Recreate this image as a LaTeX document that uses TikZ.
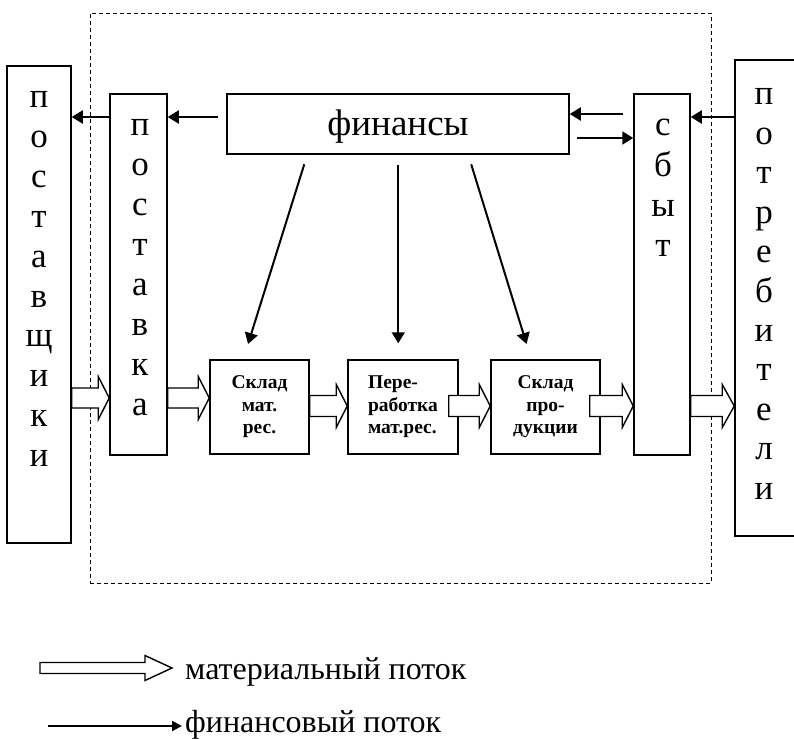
\documentclass[tikz,border=0pt]{standalone}
\usepackage{fontspec}
\setmainfont{Liberation Serif}
\usetikzlibrary{arrows.meta,calc}
\tikzset{
  box/.style={draw, line width=1.5pt, fill=white, inner sep=0pt},
  vlet/.style={anchor=base, inner sep=0pt, font=\fontsize{35}{40}\selectfont},
  smallbox/.style={box, font=\bfseries\fontsize{19.5}{22.5}\selectfont},
  finarrow/.style={line width=2pt, -{Triangle[length=11pt,width=13pt]}},
  legtext/.style={inner sep=0pt, font=\fontsize{32}{38}\selectfont},
}
\newcommand\blockarr[5]{%
  \filldraw[fill=white, line width=1.4pt, line join=miter]
    let \p1=(#1), \p2=(#2) in
    (\x1,\y1+#3) -- (\x2-#5,\y1+#3) -- (\x2-#5,\y1+#4) -- (\x2,\y1)
    -- (\x2-#5,\y1-#4) -- (\x2-#5,\y1-#3) -- (\x1,\y1-#3) -- cycle;}
\begin{document}
\begin{tikzpicture}[x=1pt,y=-1pt]
\useasboundingbox (0,0) rectangle (794,738);
% organisation border
\node[draw, dash pattern=on 4pt off 3pt, line width=0.9pt, minimum width=621pt, minimum height=570pt, inner sep=0pt] (org) at (400.5,298) {};
% big boxes
\node[box, minimum width=64pt, minimum height=477pt] (postavshchiki) at (39,304.5) {};
\node[box, minimum width=57pt, minimum height=361pt] (postavka) at (138.5,274.5) {};
\node[box, minimum width=342pt, minimum height=60pt] (finansy) at (398,124) {};
\node[box, minimum width=56pt, minimum height=361pt] (sbyt) at (662,274.5) {};
\node[box, minimum width=65pt, minimum height=476pt] (potrebiteli) at (767.5,298) {};
\node[anchor=base, inner sep=0pt, font=\fontsize{37}{44}\selectfont] (tfin) at (398,136) {финансы};
% vertical letters
\foreach \ch [count=\i] in {п,о,с,т,а,в,щ,и,к,и}
  \node[vlet] (pa\i) at (39,{108+39.8*(\i-1)}) {\ch};
\foreach \ch [count=\i] in {п,о,с,т,а,в,к,а}
  \node[vlet] (pb\i) at (140,{136+39.9*(\i-1)}) {\ch};
\foreach \ch [count=\i] in {с,б,ы,т}
  \node[vlet] (sb\i) at (663,{136+40*(\i-1)}) {\ch};
\foreach \ch [count=\i] in {п,о,т,р,е,б,и,т,е,л,и}
  \node[vlet] (pt\i) at (764,{105+39.4*(\i-1)}) {\ch};
% small boxes
\node[smallbox, minimum width=99pt, minimum height=94pt, align=center] (sklad1) at (259.5,407) {Склад\\мат.\\рес.};
\node[smallbox, minimum width=110pt, minimum height=94pt, align=left] (pererab) at (403,407) {Пере-\\работка\\мат.рес.};
\node[smallbox, minimum width=109pt, minimum height=94pt, align=center] (sklad2) at (545.5,407) {Склад\\про-\\дукции};
% material flow (hollow arrows)
\coordinate (m1) at (0,398);
\coordinate (m2) at (0,406);
\blockarr{postavshchiki.east |- m1}{postavka.west |- m1}{10pt}{21.5pt}{11pt}
\blockarr{postavka.east |- m1}{sklad1.west |- m1}{10pt}{21.5pt}{11pt}
\blockarr{sklad1.east |- m2}{pererab.west |- m2}{10.5pt}{21.5pt}{11pt}
\blockarr{$(pererab.east |- m2)+(-10,0)$}{sklad2.west |- m2}{10.5pt}{21.5pt}{11pt}
\blockarr{$(sklad2.east |- m2)+(-11,0)$}{sbyt.west |- m2}{10.5pt}{21.5pt}{11pt}
\blockarr{sbyt.east |- m2}{potrebiteli.west |- m2}{10.5pt}{21.5pt}{12pt}
% financial flow
\coordinate (f1) at (0,117);
\coordinate (f2) at (0,114);
\coordinate (f3) at (0,138);
\draw[finarrow] (postavka.west |- f1) -- (postavshchiki.east |- f1);
\draw[finarrow, shorten <=8pt] (finansy.west |- f1) -- (postavka.east |- f1);
\draw[finarrow, shorten <=10pt] (sbyt.west |- f2) -- (finansy.east |- f2);
\draw[finarrow, shorten <=7pt] (finansy.east |- f3) -- (sbyt.west |- f3);
\draw[finarrow] (potrebiteli.west |- f1) -- (sbyt.east |- f1);
\draw[finarrow, shorten <=10pt, shorten >=16pt] ([xshift=81pt]finansy.south west) -- ([xshift=34pt]sklad1.north west);
\draw[finarrow, shorten <=10pt, shorten >=16pt] ([xshift=172pt]finansy.south west) -- ([xshift=51pt]pererab.north west);
\draw[finarrow, shorten <=10pt, shorten >=16pt] ([xshift=242pt]finansy.south west) -- ([xshift=41pt]sklad2.north west);
% legend
\coordinate (lm0) at (40,668);
\coordinate (lm1) at (172,668);
\blockarr{lm0}{lm1}{5.5pt}{12.5pt}{27pt}
\node[legtext, anchor=base west] (ltm) at (185,679) {материальный поток};
\coordinate (lf0) at (48,726);
\coordinate (lf1) at (182,726);
\draw[line width=2pt, -{Triangle[length=10pt,width=10pt]}] (lf0) -- (lf1);
\node[legtext, anchor=base west] (ltf) at (185,732) {финансовый поток};
\end{tikzpicture}
\end{document}
